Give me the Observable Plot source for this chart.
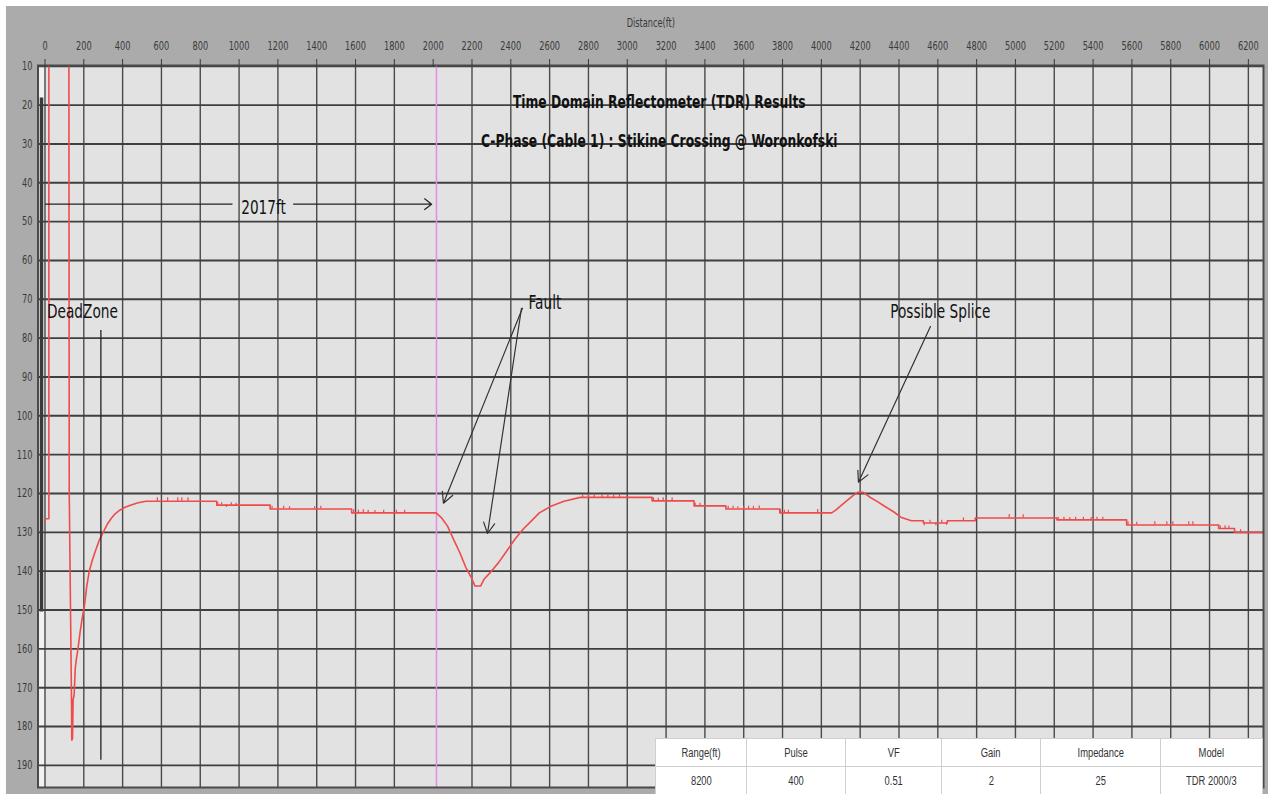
<!DOCTYPE html>
<html><head><meta charset="utf-8">
<script src="https://cdn.jsdelivr.net/npm/d3@7"></script>
<script src="https://cdn.jsdelivr.net/npm/@observablehq/plot@0.6"></script>
<style>
body{margin:0;background:#fff;}
#wrap{position:relative;width:1268px;height:794px;overflow:hidden;}
#chart{position:absolute;left:6px;top:6px;}
#info{position:absolute;left:655px;top:738px;width:607px;height:56px;background:#fff;border-collapse:collapse;font-family:"Liberation Sans Narrow","Arial Narrow",sans-serif;font-size:12px;color:#333;table-layout:fixed;}
#info td{border:1px solid #cfcfcf;text-align:center;padding:0;height:27px;}
#info td span{display:inline-block;transform:scaleX(0.78);white-space:nowrap;}
</style></head>
<body>
<div id="wrap"><div id="chart"></div>
<table id="info"><colgroup id="cols"></colgroup><tr id="hdr"></tr><tr id="vals"></tr></table>
</div>
<script>
// ---- data ----
const xTicks = [0,200,400,600,800,1000,1200,1400,1600,1800,2000,2200,2400,2600,2800,3000,3200,3400,3600,3800,4000,4200,4400,4600,4800,5000,5200,5400,5600,5800,6000,6200];
const yTicks = [10,20,30,40,50,60,70,80,90,100,110,120,130,140,150,160,170,180,190];
const distanceFt = [0,20,20,123,125,137,138,142,145,150,156,162,170,180,192,203,215,228,245,262,280,300,320,340,360,385,410,440,480,520,
  885,885,1160,1160,1580,1580,2015,
  2042,2074,2105,2137,2168,2200,2215,2245,2263,2295,2337,2379,2421,2463,2505,2547,2610,2674,2758,
  3128,3128,3344,3344,3508,3508,3786,3786,4053,
  4074,4104,4135,4166,4187,4217,4248,4289,4330,4372,4413,4464,4526,4526,4649,4649,4793,4793,5214,5214,5573,5573,6047,6047,6129,6129,6290];
const reflection = [126.5,126.5,0,0,120,175,183.5,183,173,172,165,162.5,160,156,152,149,144,140,137,134.5,132,130,128,126.5,125.3,124.3,123.6,123,122.4,122,
  122,123,123,124,124,125,125,
  126.2,128.4,131.8,135.2,139,142,143.8,143.8,142,140.3,137.8,134.8,131.8,129.2,127.1,125,123.2,122,121,
  121,121.9,121.9,123.2,123.2,124,124,125,125,
  124.3,123,121.7,120.4,119.7,119.7,120.9,122.1,123.4,124.7,126.2,127,127,127.6,127.6,127,127,126.3,126.3,126.8,126.8,128.1,128.1,129,129,130,130];
// noise spikes: [ft, trace value, spike tip]
const spikes = [[579,122,121.1],[632,122,121.1],[684,122,121.1],[705,122,121.1],[737,122,121.1],
  [890,123,122.3],[910,123,122.4],[935,123,123.6],[960,123,122.4],[985,123,122.5],
  [1170,124,123.3],[1200,124,123.2],[1230,124,123.3],[1260,124,123.4],[1389,124,123.4],[1421,124,123.3],
  [1590,125,124.2],[1615,125,124.3],[1640,125,124.2],[1665,125,124.3],[1700,125,124.4],[1745,125,124.3],[1810,125,124.3],[1853,125,124.3],
  [2770,121,120.3],[2800,121,120.3],[2830,121,120.2],[2870,121,120.3],[2900,121,120.3],[2930,121,120.3],[2960,121,120.3],
  [3135,121.9,121.1],[3160,121.9,121.2],[3185,121.9,121.1],[3231,121.9,121.1],[3350,123.2,122.5],[3375,123.2,122.5],
  [3520,124,123.3],[3545,124,123.3],[3570,124,123.4],[3600,124,123.3],[3625,124,123.3],[3650,124,123.3],[3680,124,123.2],
  [3790,125,124.2],[3810,125,124.3],[3830,125,124.3],[3981,125,124.1],
  [4530,127.6,128.3],[4560,127.6,126.9],[4590,127.6,128.3],[4620,127.6,126.9],[4645,127.6,128.2],[4732,127,126.3],
  [4968,126.3,125.4],[5040,126.3,125.5],
  [5220,126.8,126.1],[5250,126.8,126.1],[5280,126.8,126.2],[5310,126.8,126.1],[5350,126.8,126.1],[5390,126.8,126.2],[5420,126.8,126.1],[5450,126.8,126.1],
  [5580,128.1,127.3],[5600,128.1,127.3],[5625,128.1,127.4],[5718,128.1,127.3],[5780,128.1,127.3],[5811,128.1,127.3],[5893,128.1,127.3],[5914,128.1,127.3],
  [6055,129,128.3],[6080,129,128.3],[6100,129,128.4],[6160,130,129.3]];
const cursorFt = 2017;
const deadZoneFt = 288;
const titleLines = ["Time Domain Reflectometer (TDR) Results", "C-Phase (Cable 1) : Stikine Crossing @ Woronkofski"];
const annotationLabels = ["DeadZone", "Fault", "Possible Splice", "2017ft"];
const annotationX = [193, 2576, 4613, 1126];
const annotationY = [73.1, 70.8, 73.1, 46.3];
// arrows: from (x1,y1) to (x2,y2) in ft / reading units
const arrowX1 = [2460, 2455, 4562];
const arrowY1 = [72.3, 72.3, 77];
const arrowX2 = [2053, 2280, 4191];
const arrowY2 = [122.5, 130.3, 117.1];
const infoHeaders = ["Range(ft)", "Pulse", "VF", "Gain", "Impedance", "Model"];
const infoValues = ["8200", "400", "0.51", "2", "25", "TDR 2000/3"];

// ---- build ----
const trace = distanceFt.map((d, i) => ({x: d, y: reflection[i]}));
const notes = annotationLabels.map((t, i) => ({t, x: annotationX[i], y: annotationY[i]}));
const arrows = arrowX1.map((d, i) => ({x1: d, y1: arrowY1[i], x2: arrowX2[i], y2: arrowY2[i]}));
const span = notes.find(d => d.t === "2017ft");
const xDom = [-36, 6278], yDom = [9.8, 195.7];
const narrow = "'Liberation Sans Narrow', 'Arial Narrow', 'DejaVu Sans Condensed', sans-serif";
const red = "#ef4b4b";

const chart = Plot.plot({
  width: 1262, height: 788,
  marginLeft: 31.5, marginTop: 59, marginRight: 5, marginBottom: 7,
  style: {background: "#ababab", fontFamily: narrow, fontSize: "12px", color: "#3a3a3a"},
  x: {domain: xDom},
  y: {domain: yDom, reverse: true},
  marks: [
    Plot.frame({fill: "#e2e2e2"}),
    Plot.rect([0], {x1: xDom[0], x2: 0, y1: yDom[0], y2: yDom[1], fill: "#f1f1f1"}),
    Plot.ruleX(xTicks.filter(d => d !== 2000), {stroke: "#4a4a4a", strokeWidth: 1.4}),
    Plot.ruleY(yTicks, {stroke: "#3f3f3f", strokeWidth: 1.9}),
    Plot.ruleX([cursorFt], {stroke: "#e68ae6", strokeWidth: 1.5}),
    Plot.ruleX([-18], {y1: 18.2, y2: 150.5, stroke: "#3a3a3a", strokeWidth: 3.5}),
    Plot.line(trace, {x: "x", y: "y", stroke: red, strokeWidth: 1.6, clip: true}),
    Plot.ruleX(spikes, {x: d => d[0], y1: d => d[1], y2: d => d[2], stroke: red, strokeWidth: 1.2}),
    Plot.ruleX([deadZoneFt], {y1: 78, y2: 188.7, stroke: "#222", strokeWidth: 1.3}),
    // 2017ft dimension line, broken around its label
    Plot.link([span], {x1: 0, x2: d => d.x - 160, y1: span.y - 0.8, y2: span.y - 0.8, stroke: "#222", strokeWidth: 1.2}),
    Plot.arrow([span], {x1: d => d.x + 155, x2: cursorFt - 25, y1: span.y - 0.8, y2: span.y - 0.8, stroke: "#222", strokeWidth: 1.2, headLength: 11, headAngle: 75}),
    Plot.arrow(arrows, {x1: "x1", y1: "y1", x2: "x2", y2: "y2", stroke: "#333", strokeWidth: 1.2, headLength: 15, headAngle: 55}),
    Plot.text(notes, {x: "x", y: "y", text: "t", fontSize: 20, fill: "#141414", fontFamily: narrow}),
    Plot.text(titleLines, {x: 3165, y: (d, i) => [19.3, 29.3][i], text: d => d, fontSize: 18, fontWeight: "bold", fill: "#111", fontFamily: narrow}),
    Plot.frame({stroke: "#4a4a4a", strokeWidth: 2}),
    Plot.axisX(xTicks, {anchor: "top", tickSize: 7, tickPadding: 9, tickFormat: d => String(d), label: "Distance(ft)", labelAnchor: "center", labelOffset: 47, labelArrow: "none", fill: "#3a3a3a", stroke: "#3a3a3a"}),
    Plot.axisY(yTicks, {anchor: "left", tickSize: 0, tickPadding: 5.5, tickFormat: d => String(d), label: null, fill: "#3a3a3a"})
  ]
});
document.getElementById("chart").append(chart);

// condense all text to match the narrow face of the original
chart.querySelectorAll("text").forEach(t => {
  const n = t.getComputedTextLength();
  if (n > 0) { t.setAttribute("textLength", (n * 0.76).toFixed(1)); t.setAttribute("lengthAdjust", "spacingAndGlyphs"); }
});

// info table
const widths = [91, 99, 96, 99, 120, 102];
const cols = document.getElementById("cols");
widths.forEach(w => { const c = document.createElement("col"); c.style.width = w + "px"; cols.append(c); });
const hdr = document.getElementById("hdr"), vals = document.getElementById("vals");
const cell = (row, s) => { const td = document.createElement("td"); const sp = document.createElement("span"); sp.textContent = s; td.append(sp); row.append(td); };
infoHeaders.forEach(h => cell(hdr, h));
infoValues.forEach(v => cell(vals, v));
</script>
</body></html>
